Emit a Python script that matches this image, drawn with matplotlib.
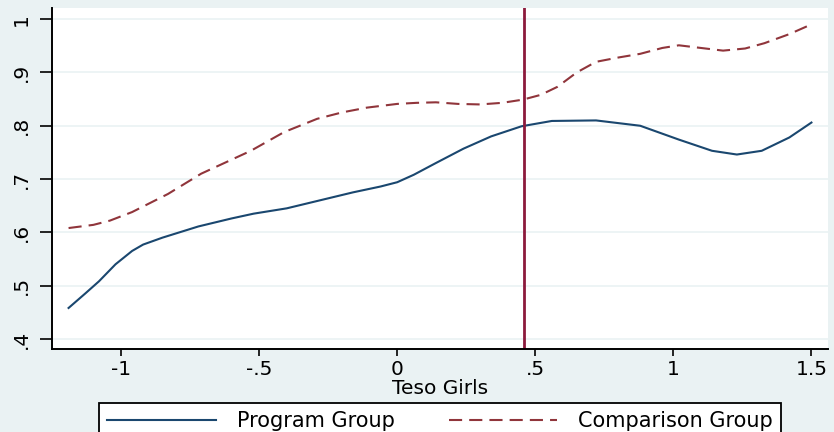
import matplotlib.pyplot as plt

plt.rcParams["font.family"] = ["DejaVu Sans"]

# program group (solid line)
prog_x = [-1.19, -1.13, -1.08, -1.02, -0.96, -0.92, -0.85, -0.72, -0.60, -0.52,
          -0.40, -0.28, -0.16, -0.06, 0.00, 0.06, 0.14, 0.24, 0.34, 0.45,
          0.56, 0.72, 0.88, 1.02, 1.14, 1.23, 1.32, 1.42, 1.50]
prog_y = [0.458, 0.485, 0.508, 0.540, 0.565, 0.577, 0.590, 0.611, 0.626, 0.635,
          0.645, 0.660, 0.675, 0.686, 0.694, 0.708, 0.730, 0.757, 0.780, 0.799,
          0.809, 0.810, 0.800, 0.774, 0.753, 0.746, 0.753, 0.778, 0.806]

# comparison group (dashed line)
comp_x = [-1.19, -1.10, -1.04, -0.96, -0.83, -0.71, -0.53, -0.41, -0.29, -0.20,
          -0.11, 0.00, 0.07, 0.14, 0.22, 0.30, 0.38, 0.455, 0.52, 0.58,
          0.65, 0.72, 0.80, 0.88, 0.96, 1.02, 1.10, 1.18, 1.26, 1.33,
          1.42, 1.49]
comp_y = [0.608, 0.614, 0.622, 0.638, 0.672, 0.710, 0.753, 0.788, 0.813, 0.825,
          0.834, 0.841, 0.843, 0.844, 0.841, 0.840, 0.843, 0.849, 0.858, 0.873,
          0.900, 0.920, 0.928, 0.935, 0.946, 0.951, 0.946, 0.941, 0.945, 0.955,
          0.972, 0.988]

cutoff = 0.46

xticks = [-1, -0.5, 0, 0.5, 1, 1.5]
xtick_labels = ["-1", "-.5", "0", ".5", "1", "1.5"]
yticks = [0.4, 0.5, 0.6, 0.7, 0.8, 0.9, 1.0]
ytick_labels = [".4", ".5", ".6", ".7", ".8", ".9", "1"]

fs = 14.5
bg = "#eaf2f3"
fig = plt.figure(figsize=(8.34, 4.32), dpi=100, facecolor=bg)
ax = fig.add_axes([52 / 834, 83 / 432, 776 / 834, 341 / 432])
ax.set_facecolor("white")

for y in yticks:
    ax.axhline(y, color=bg, lw=1.2, zorder=0)

ax.plot(prog_x, prog_y, color="#1a476f", lw=1.5, label="Program Group")
ax.plot(comp_x, comp_y, color="#90353b", lw=1.5, dashes=(6.3, 3.4),
        label="Comparison Group")
ax.axvline(cutoff, color="#8c1a3c", lw=2)

ax.set_xlim(-1.25, 1.56)
ax.set_ylim(0.381, 1.021)
ax.set_xticks(xticks)
ax.set_xticklabels(xtick_labels)
ax.set_yticks(yticks)
ax.set_yticklabels(ytick_labels, rotation=90, va="center")
ax.tick_params(direction="out", width=1.2, labelsize=fs)
ax.tick_params(axis="x", length=5, pad=3)
ax.tick_params(axis="y", length=9, pad=6)

for side in ["top", "right"]:
    ax.spines[side].set_visible(False)
for side in ["left", "bottom"]:
    ax.spines[side].set_linewidth(1.4)

ax.set_xlabel("Teso Girls", fontsize=fs, labelpad=0)

leg = fig.legend(loc="upper center", bbox_to_anchor=(440 / 834, 29 / 432), ncol=2,
                 fontsize=15, frameon=True, fancybox=False, edgecolor="black",
                 facecolor="white", framealpha=1, handlelength=5.2,
                 handletextpad=1.0, columnspacing=2.6, borderpad=0.4,
                 borderaxespad=0)
leg.get_frame().set_linewidth(1.3)

fig.savefig("out.png", dpi=100, facecolor=bg)
